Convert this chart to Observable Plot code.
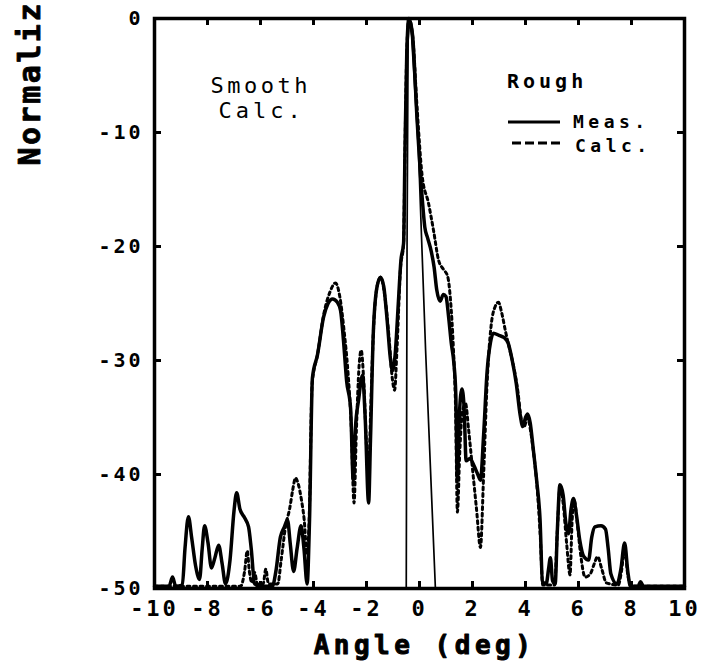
<!DOCTYPE html>
<html><head><meta charset="utf-8">
<script src="https://cdn.jsdelivr.net/npm/d3@7"></script>
<script src="https://cdn.jsdelivr.net/npm/@observablehq/plot@0.6"></script>
<style>
body{margin:0;background:#fff;}
#wrap{position:relative;width:706px;height:664px;background:#fff;}
#wrap svg text{font-family:"DejaVu Sans Mono",monospace;}
#legend{position:absolute;left:0;top:0;pointer-events:none;}
</style></head>
<body><div id="wrap"></div>
<script>
// ---- tick labels ----
const xTicks = [-10,-8,-6,-4,-2,0,2,4,6,8,10];
const yTicks = [0,-10,-20,-30,-40,-50];

// ---- Rough, measured (solid) ----
const measAngle = [-10,-9.45,-9.32,-9.2,-8.95,-8.85,-8.72,-8.6,-8.45,-8.3,-8.2,-8.11,-7.98,-7.85,-7.72,-7.58,-7.45,-7.32,-7.15,-7.0,-6.9,-6.78,-6.6,-6.45,-6.35,-6.22,-6.0,-5.55,-5.42,-5.25,-5.1,-4.98,-4.88,-4.75,-4.62,-4.47,-4.36,-4.24,-4.15,-4.04,-3.85,-3.62,-3.45,-3.28,-3.1,-2.98,-2.87,-2.75,-2.6,-2.5,-2.42,-2.3,-2.15,-2.05,-1.92,-1.85,-1.74,-1.6,-1.47,-1.35,-1.22,-1.1,-1.02,-0.92,-0.8,-0.7,-0.6,-0.55,-0.48,-0.4,-0.26,-0.1,0.11,0.2,0.3,0.45,0.55,0.65,0.78,0.9,1.0,1.1,1.2,1.3,1.37,1.43,1.5,1.6,1.68,1.76,1.9,2.05,2.2,2.3,2.42,2.55,2.68,2.79,3.0,3.2,3.35,3.5,3.65,3.8,3.9,4.0,4.08,4.18,4.28,4.42,4.55,4.64,4.78,4.87,4.94,5.02,5.12,5.2,5.3,5.42,5.52,5.62,5.72,5.81,5.92,6.05,6.2,6.38,6.5,6.62,6.85,7.02,7.12,7.22,7.45,7.6,7.74,7.86,7.96,8.25,8.34,8.45,10];
const measDb = [-49.8,-49.8,-49.0,-49.8,-49.7,-46.5,-43.7,-45.5,-48,-49.2,-46.5,-44.5,-46,-48.2,-47.3,-46.2,-47.8,-49.6,-47.5,-43.2,-41.6,-43,-43.8,-44.6,-46.5,-49.6,-49.8,-49.8,-48.5,-45.5,-44.6,-44,-46,-48.5,-46.5,-44.5,-46.5,-49.6,-44,-31.5,-29.5,-26.2,-25,-24.6,-24.9,-25.6,-28.2,-31.8,-34.2,-40.5,-36,-33.5,-31.3,-35,-42.5,-37,-27.4,-23.5,-22.7,-23.5,-26.5,-29.8,-30.9,-29.5,-25,-21.2,-19.7,-12,-3,0,-1.5,-8.5,-16,-18.3,-19.2,-20.5,-21.8,-23.8,-24.8,-24.2,-24.4,-26.2,-28.5,-30.3,-33,-40.5,-35,-32.5,-34,-38.8,-38.6,-39.2,-40,-40.5,-36.5,-31,-28.4,-27.6,-27.8,-28.0,-28.5,-30,-32,-34.8,-35.8,-35,-34.7,-35.5,-37.5,-40.5,-44,-49.4,-49.6,-48.3,-47.3,-49.3,-49.6,-45,-40.9,-41.8,-44.2,-45.2,-43,-42.1,-43.5,-45.8,-47.2,-47.5,-45.5,-44.6,-44.5,-44.8,-46.5,-48.7,-49.6,-48.3,-46,-48.5,-49.8,-49.8,-49.4,-49.8,-49.8];

// ---- Rough, calculated (dotted) ----
const calcAngle = [-10,-6.75,-6.6,-6.5,-6.42,-6.32,-6.22,-6.12,-5.9,-5.8,-5.7,-5.35,-5.22,-5.05,-4.9,-4.78,-4.68,-4.58,-4.45,-4.35,-4.25,-4.17,-4.05,-3.85,-3.6,-3.38,-3.17,-3.0,-2.85,-2.7,-2.58,-2.47,-2.38,-2.28,-2.2,-2.1,-2.0,-1.92,-1.85,-1.74,-1.6,-1.47,-1.3,-1.15,-1.03,-0.94,-0.85,-0.72,-0.6,-0.55,-0.48,-0.4,-0.26,-0.1,0.1,0.34,0.53,0.72,0.9,1.06,1.17,1.28,1.36,1.43,1.52,1.62,1.74,1.85,2.0,2.15,2.3,2.42,2.55,2.7,2.85,2.98,3.1,3.25,3.4,3.55,3.7,3.85,3.95,4.08,4.2,4.3,4.45,4.56,4.65,5.1,5.2,5.3,5.42,5.55,5.68,5.76,5.84,5.95,6.08,6.25,6.45,6.6,6.72,6.88,7.05,7.5,7.62,7.74,7.86,7.98,10];
const calcDb = [-49.8,-49.8,-48.5,-46.7,-48.5,-49.5,-48.6,-49.6,-49.6,-48.3,-49.6,-49.6,-47.5,-44.5,-43,-41.3,-40.3,-40.8,-42.3,-44,-47,-44.5,-32,-29.5,-25.8,-24,-23.2,-24.5,-27.3,-31,-35.5,-42.5,-36,-30.5,-29.1,-32,-37.5,-40,-35,-27.5,-23.5,-22.7,-24.5,-28,-31.5,-32.6,-29,-22,-19.7,-12,-3,0,-1.5,-7.5,-13.8,-16.2,-18.6,-21.2,-22,-22.6,-24.7,-29,-34,-43.3,-38,-34.5,-33.8,-36,-39.5,-43,-46.4,-40,-32,-27,-25.3,-24.9,-25.8,-27.5,-29,-30.5,-32.5,-35.3,-35.8,-35,-36.3,-38,-41.5,-45.5,-49.7,-49.7,-45,-41.2,-42.5,-46,-48.8,-44,-42.3,-44.2,-47,-49,-48.7,-47.8,-47.2,-48.3,-49.5,-49.7,-48.5,-46.5,-48.8,-49.8,-49.8];

// ---- Smooth, calculated (thin) ----
const smoothAngle = [-0.5,-0.47,-0.43,-0.38,-0.3,-0.04,0.23,0.6];
const smoothDb = [-50,-20,-2,0,-1.5,-11.6,-29.1,-50];

const meas = measAngle.map((x, i) => ({x, y: measDb[i]}));
const calc = calcAngle.map((x, i) => ({x, y: calcDb[i]}));
const smooth = smoothAngle.map((x, i) => ({x, y: smoothDb[i]}));

const innerX = xTicks.slice(1, -1);
const innerY = yTicks.slice(1, -1);

const W = 706, H = 664, mL = 154, mR = 22, mT = 18, mB = 76;
const frameW = W - mL - mR, frameH = H - mT - mB, tickLen = 7;

const chart = Plot.plot({
  width: W, height: H,
  marginLeft: mL, marginRight: mR, marginTop: mT, marginBottom: mB,
  x: {domain: [-10, 10]},
  y: {domain: [-50, 0]},
  style: {background: "white", color: "black", fontFamily: "DejaVu Sans Mono"},
  marks: [
    Plot.line(smooth, {x: "x", y: "y", stroke: "black", strokeWidth: 1.7}),
    Plot.line(calc, {x: "x", y: "y", stroke: "black", strokeWidth: 3, strokeDasharray: "3,3.5", curve: "monotone-x"}),
    Plot.line(meas, {x: "x", y: "y", stroke: "black", strokeWidth: 3.5, curve: "monotone-x"}),
    Plot.frame({stroke: "black", strokeWidth: 3.5}),
    // inward ticks on all four sides
    Plot.ruleX(innerX, {x: d => d, insetTop: frameH - tickLen, stroke: "black", strokeWidth: 3}),
    Plot.ruleX(innerX, {x: d => d, insetBottom: frameH - tickLen, stroke: "black", strokeWidth: 3}),
    Plot.ruleY(innerY, {y: d => d, insetRight: frameW - tickLen, stroke: "black", strokeWidth: 3}),
    Plot.ruleY(innerY, {y: d => d, insetLeft: frameW - tickLen, stroke: "black", strokeWidth: 3}),
    Plot.axisX(xTicks, {anchor: "bottom", tickSize: 0, tickPadding: 12, fontSize: 22, fontWeight: "bold", fill: "black", stroke: "black", strokeWidth: 0.9, tickFormat: d => String(d), label: null}),
    Plot.axisY(yTicks, {anchor: "left", tickSize: 0, tickPadding: 11, fontSize: 20, fontWeight: "bold", fill: "black", stroke: "black", strokeWidth: 0.9, tickFormat: d => String(d), label: null}),
    Plot.text(["Normaliz"], {frameAnchor: "top-left", dx: -124, dy: 147, rotate: -90, textAnchor: "start", lineAnchor: "middle", fontSize: 30, fontWeight: "bold", fill: "black", stroke: "black", strokeWidth: 0.8}),
    Plot.text(["Angle (deg)"], {frameAnchor: "bottom", dx: 5, dy: 57, textAnchor: "middle", lineAnchor: "middle", fontSize: 26, fontWeight: "bold", fill: "black", stroke: "black", strokeWidth: 1}),
    Plot.text(["Smooth"], {frameAnchor: "top-left", dx: 56, dy: 67, textAnchor: "start", lineAnchor: "middle", fontSize: 22, fill: "black"}),
    Plot.text(["Calc."], {frameAnchor: "top-left", dx: 64, dy: 92, textAnchor: "start", lineAnchor: "middle", fontSize: 22, fill: "black"})
  ]
});

const wrap = document.getElementById("wrap");
wrap.appendChild(chart);

// letter spacing to mimic the wide plotter lettering
const spacing = [2.5, 4.5, 3.5, 4];
chart.querySelectorAll('g[aria-label="text"]').forEach((g, i) => {
  g.querySelectorAll("text").forEach(t => t.style.letterSpacing = spacing[i] + "px");
});
chart.querySelectorAll('g[aria-label="x-axis tick label"] text').forEach(t => t.style.letterSpacing = "3px");
chart.querySelectorAll('g[aria-label="y-axis tick label"] text').forEach(t => t.style.letterSpacing = "3px");

// legend (Rough: Meas. / Calc.)
const NS = "http://www.w3.org/2000/svg";
const leg = document.createElementNS(NS, "svg");
leg.setAttribute("id", "legend");
leg.setAttribute("width", W); leg.setAttribute("height", H);
leg.innerHTML = `
  <text x="507" y="88" font-size="20" font-weight="bold" style="letter-spacing:4px">Rough</text>
  <line x1="508" y1="122" x2="560" y2="122" stroke="black" stroke-width="3"/>
  <text x="573" y="128" font-size="18" font-weight="bold" style="letter-spacing:4.5px">Meas.</text>
  <line x1="512" y1="143" x2="563" y2="143" stroke="black" stroke-width="3" stroke-dasharray="9,4"/>
  <text x="575" y="152" font-size="18" font-weight="bold" style="letter-spacing:4.5px">Calc.</text>`;
wrap.appendChild(leg);
</script>
</body></html>
